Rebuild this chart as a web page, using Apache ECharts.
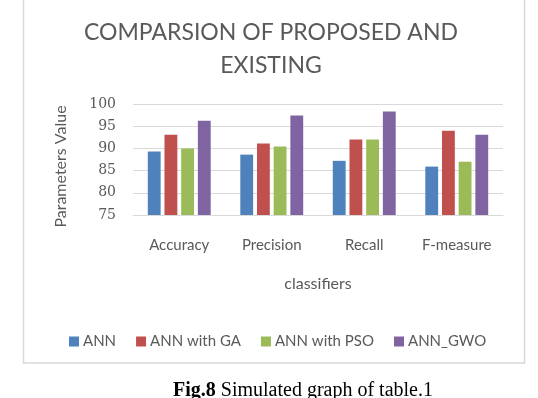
<!DOCTYPE html>
<html>
<head>
<meta charset="utf-8">
<script src="https://cdn.jsdelivr.net/npm/echarts@6/dist/echarts.min.js"></script>
<style>
  html, body { margin: 0; padding: 0; background: #fff; }
  #chart { width: 538px; height: 398px; }
</style>
</head>
<body>
<div id="chart"></div>
<script>
// values
var classifiers = ['Accuracy', 'Precision', 'Recall', 'F-measure'];
var seriesNames = ['ANN', 'ANN with GA', 'ANN with PSO', 'ANN_GWO'];
var ann = [89.3, 88.6, 87.2, 85.9];
var annGa = [93.1, 91.1, 92.0, 94.0];
var annPso = [90.0, 90.4, 92.0, 87.0];
var annGwo = [96.2, 97.4, 98.3, 93.1];
var colors = ['#4F81BD', '#C0504D', '#9BBB59', '#8064A2'];

var textFont = 'Lato';
var chart = echarts.init(document.getElementById('chart'));

var allData = [ann, annGa, annPso, annGwo];
var series = [];
for (var i = 0; i < seriesNames.length; i++) {
  series.push({
    name: seriesNames[i],
    type: 'bar',
    data: allData[i],
    barGap: '30%',
    barCategoryGap: '32%',
    itemStyle: { color: colors[i] }
  });
}

var option = {
  animation: false,
  title: [{
    text: 'COMPARSION OF PROPOSED AND\nEXISTING',
    left: 266,
    textAlign: 'center',
    top: 11,
    textStyle: {
      fontFamily: textFont,
      fontSize: 23,
      fontWeight: 'normal',
      color: '#595959',
      lineHeight: 33
    }
  }, {
    text: '{b|Fig.8} Simulated graph of table.1',
    left: 298,
    textAlign: 'center',
    top: 376,
    textStyle: {
      fontFamily: 'Liberation Serif',
      fontSize: 20,
      fontWeight: 'normal',
      color: '#000',
      rich: {
        b: { fontFamily: 'Liberation Serif', fontSize: 20, fontWeight: 'bold', color: '#000' }
      }
    }
  }],
  graphic: [{
    type: 'rect',
    shape: { x: 23.5, y: -5, width: 501, height: 368 },
    style: { fill: 'none', stroke: '#d9d9d9', lineWidth: 1.5 },
    silent: true
  }],
  legend: {
    data: seriesNames,
    left: 64,
    top: 329,
    itemWidth: 10,
    itemHeight: 10,
    itemGap: 20,
    icon: 'rect',
    textStyle: { fontFamily: textFont, fontSize: 15, color: '#595959', padding: [0, 0, 0, -1] }
  },
  grid: { left: 133, right: 35, top: 104, bottom: 183 },
  xAxis: {
    type: 'category',
    data: classifiers,
    name: 'classifiers',
    nameLocation: 'middle',
    nameGap: 61,
    nameTextStyle: { fontFamily: textFont, fontSize: 16, color: '#595959' },
    axisLine: { lineStyle: { color: '#d9d9d9' } },
    axisTick: { show: false },
    axisLabel: { fontFamily: textFont, fontSize: 15, color: '#595959', margin: 23 }
  },
  yAxis: {
    type: 'value',
    min: 75,
    max: 100,
    interval: 5,
    name: 'Parameters Value',
    nameLocation: 'middle',
    nameGap: 64,
    nameTextStyle: { fontFamily: textFont, fontSize: 16, color: '#595959', padding: [0, 0, 0, -14] },
    axisLine: { show: false },
    axisTick: { show: false },
    splitLine: { lineStyle: { color: '#d9d9d9' } },
    axisLabel: { fontFamily: 'DejaVu Serif', fontSize: 14, color: '#595959', margin: 17 }
  },
  series: series
};
chart.setOption(option);
</script>
</body>
</html>
